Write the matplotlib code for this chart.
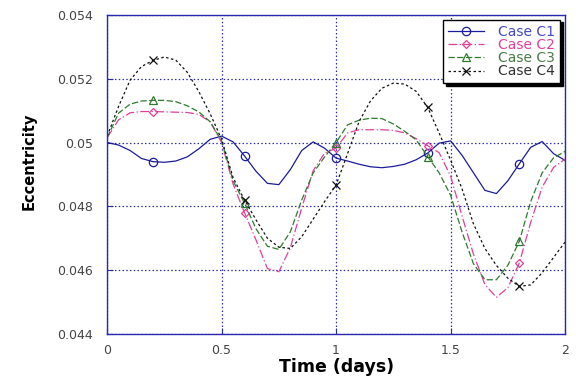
import matplotlib
matplotlib.use("Agg")
import matplotlib.pyplot as plt
import numpy as np

plt.rcParams['font.family'] = ['DejaVu Sans']

# time axis (days)
t = np.arange(0, 2.0001, 0.05)

c1 = [0.05000, 0.04992, 0.04975, 0.04950, 0.04940, 0.04938, 0.04942, 0.04955, 0.04980, 0.05010,
      0.05020, 0.05002, 0.04958, 0.04910, 0.04872, 0.04868, 0.04915, 0.04975, 0.05002, 0.04982,
      0.04951, 0.04942, 0.04932, 0.04924, 0.04921, 0.04925, 0.04932, 0.04946, 0.04967, 0.04998,
      0.05005, 0.04960, 0.04905, 0.04850, 0.04840, 0.04880, 0.04933, 0.04985, 0.05003, 0.04965,
      0.04944]
c2 = [0.05015, 0.05071, 0.05093, 0.05097, 0.05097, 0.05096, 0.05095, 0.05094, 0.05088, 0.05065,
      0.05000, 0.04870, 0.04780, 0.04695, 0.04605, 0.04595, 0.04670, 0.04795, 0.04912, 0.04967,
      0.04982, 0.05030, 0.05040, 0.05040, 0.05040, 0.05038, 0.05030, 0.05012, 0.04990, 0.04968,
      0.04895, 0.04770, 0.04650, 0.04555, 0.04515, 0.04545, 0.04622, 0.04750, 0.04860, 0.04922,
      0.04948]
c3 = [0.05015, 0.05092, 0.05120, 0.05130, 0.05132, 0.05132, 0.05128, 0.05115, 0.05096, 0.05065,
      0.05005, 0.04880, 0.04810, 0.04730, 0.04675, 0.04665, 0.04720, 0.04820, 0.04905, 0.04955,
      0.05000, 0.05055, 0.05070, 0.05076, 0.05075, 0.05058, 0.05035, 0.05008, 0.04956, 0.04905,
      0.04835, 0.04720, 0.04620, 0.04570, 0.04570, 0.04615, 0.04690, 0.04815, 0.04905, 0.04952,
      0.04972]
c4 = [0.05020, 0.05113, 0.05195, 0.05238, 0.05257, 0.05268, 0.05258, 0.05220, 0.05160, 0.05090,
      0.05010, 0.04890, 0.04820, 0.04758, 0.04700, 0.04672, 0.04668, 0.04705, 0.04760, 0.04815,
      0.04867, 0.04965, 0.05065, 0.05130, 0.05170, 0.05186, 0.05183, 0.05160, 0.05110, 0.05030,
      0.04945, 0.04855, 0.04745, 0.04668, 0.04615, 0.04575, 0.04549, 0.04554, 0.04592, 0.04640,
      0.04688]

labels = ["Case C1", "Case C2", "Case C3", "Case C4"]
colors = ["#1c1c9c", "#e0409a", "#2f7a2f", "#111111"]
text_colors = ["#4848c0", "#e0409a", "#4a7a4a", "#333333"]
styles = ["-", (0, (7, 2, 1, 2)), (0, (5, 2)), (0, (2, 2))]
markers = ["o", "D", "^", "x"]
msizes = [6, 4.5, 6, 6]
mark_idx = [4, 12, 20, 28, 36]   # markers at t = 0.2, 0.6, 1.0, 1.4, 1.8

fig = plt.figure(figsize=(5.76, 3.8), dpi=100)
ax = fig.add_axes([0.186, 0.121, 0.795, 0.840])

for y, lab, c, ls, m, ms in zip([c1, c2, c3, c4], labels, colors, styles, markers, msizes):
    ax.plot(t, y, color=c, linestyle=ls, linewidth=0.9, marker=m, markersize=ms,
            markerfacecolor='none', markeredgecolor=c, markeredgewidth=0.9,
            markevery=mark_idx, label=lab)

ax.set_xlim(0, 2)
ax.set_ylim(0.044, 0.054)
ax.set_xticks([0, 0.5, 1, 1.5, 2])
ax.set_xticklabels(["0", "0.5", "1", "1.5", "2"])
ax.set_yticks([0.044, 0.046, 0.048, 0.05, 0.052, 0.054])
ax.set_yticklabels(["0.044", "0.046", "0.048", "0.05", "0.052", "0.054"])

ax.grid(True, color="#3030b0", linestyle=(0, (1.2, 1.8)), linewidth=0.9)
for s in ax.spines.values():
    s.set_color("#2a2ab0")
    s.set_linewidth(1.0)
ax.tick_params(direction="in", colors="#2a2ab0", labelcolor="#444444", labelsize=9,
               length=4)
ax.tick_params(axis="y", pad=10)
ax.tick_params(axis="x", pad=7)

ax.set_xlabel("Time (days)", fontweight="bold", fontsize=12.5, labelpad=1)
ax.set_ylabel("Eccentricity", fontweight="bold", fontsize=10.5)
ax.yaxis.set_label_coords(-0.155, 0.54)

leg = ax.legend(loc="upper right", fontsize=10, frameon=True, fancybox=False,
                shadow={'color': 'black', 'alpha': 1.0},
                handlelength=2.6, borderaxespad=0.35, labelspacing=-0.05, borderpad=0.35,
                handletextpad=1.0)
leg.get_frame().set_edgecolor("black")
leg.get_frame().set_linewidth(1.0)
for txt, tc in zip(leg.get_texts(), text_colors):
    txt.set_color(tc)

fig.savefig("out.png", dpi=100)
